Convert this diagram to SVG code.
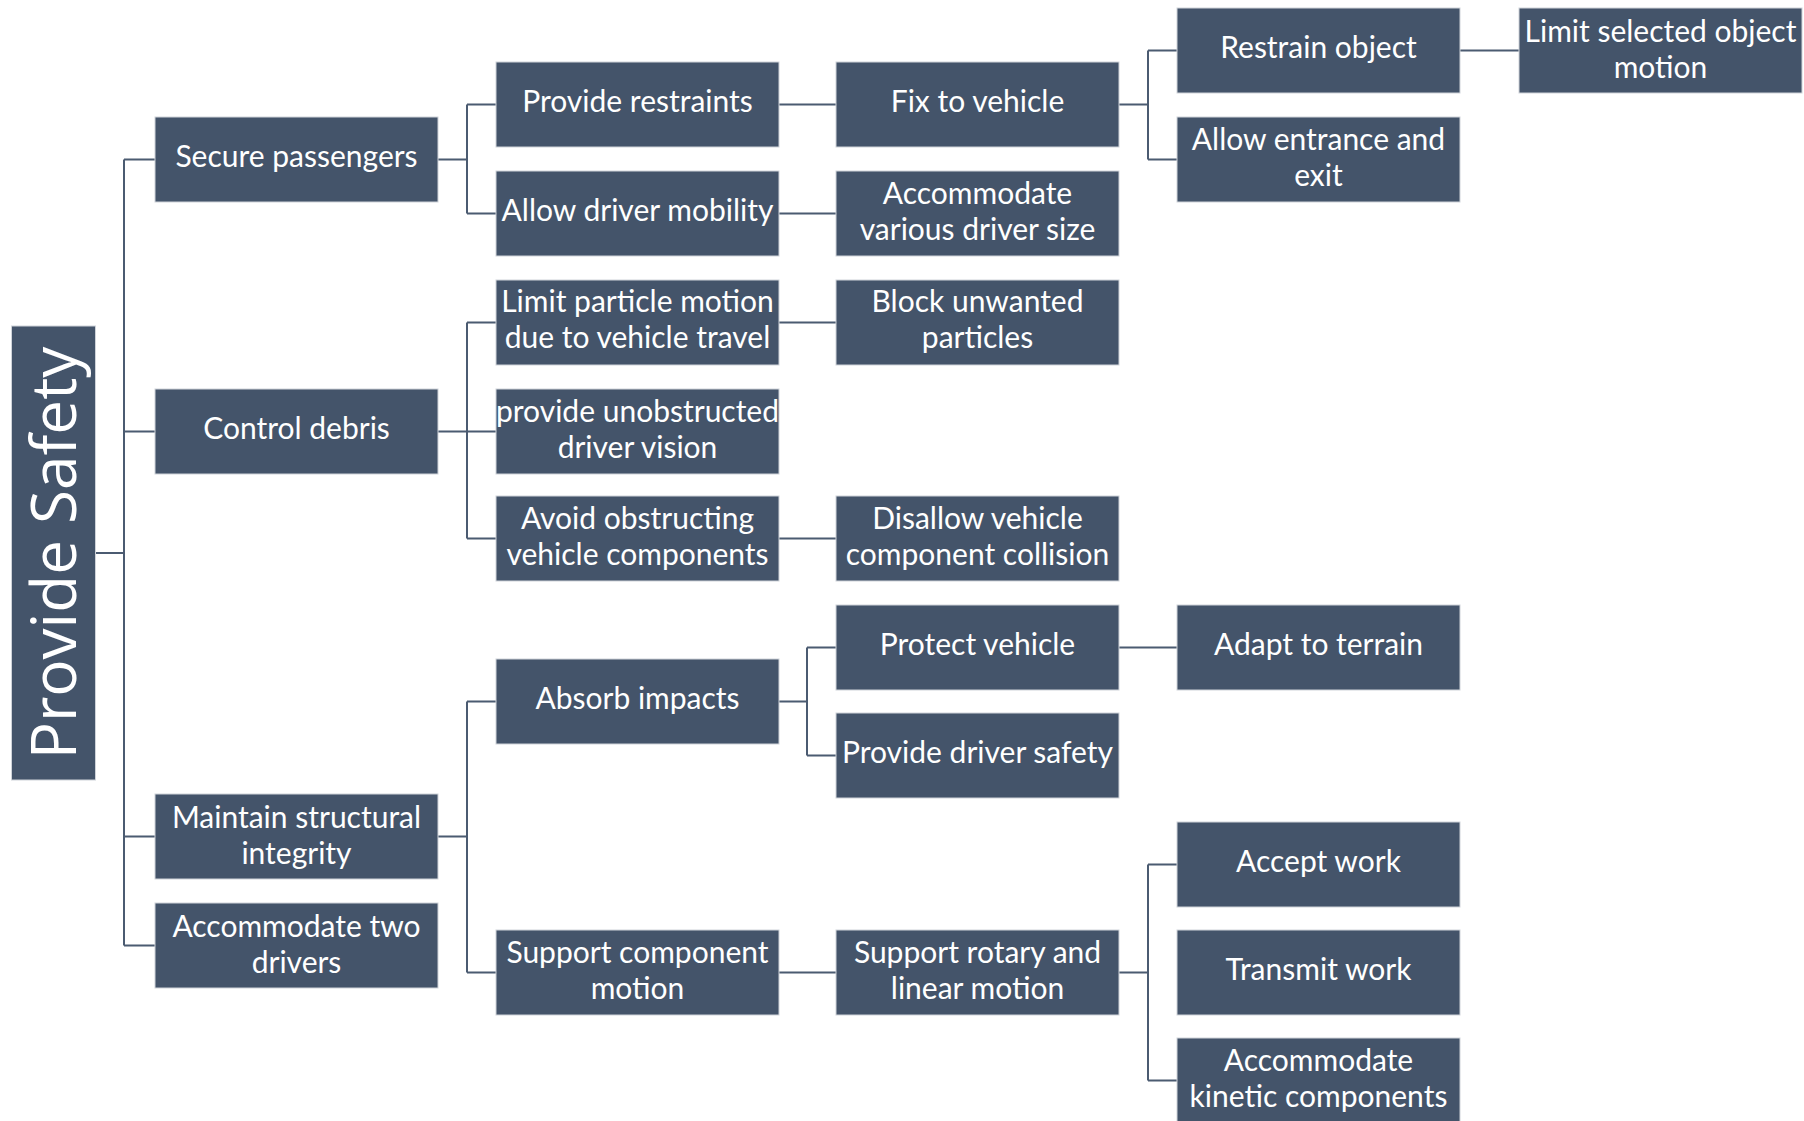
<svg xmlns="http://www.w3.org/2000/svg" width="1804" height="1121" viewBox="0 0 1804 1121">
<style>
.b{fill:#44546A;stroke:#cfd3d9;stroke-width:1}
.t{fill:#ffffff;font-family:Lato,"Open Sans","Liberation Sans",sans-serif;font-size:30px;text-anchor:middle}
.r{fill:#ffffff;font-family:"Open Sans","Liberation Sans",sans-serif;font-size:62px;text-anchor:middle}
.c{fill:none;stroke:#4b5b71;stroke-width:2}
</style>
<rect width="1804" height="1121" fill="#ffffff"/>
<g id="connectors" class="c">
<path d="M95.5 553H124M124 159.5V945.5M124 159.5H155M124 431.5H155M124 836.5H155M124 945.5H155"/>
<path d="M438 159.5H467M467 104.5V213.5M467 104.5H496M467 213.5H496"/>
<path d="M438 431.5H496M467 322.5V538.5M467 322.5H496M467 538.5H496"/>
<path d="M438 836.5H467M467 701.5V972.5M467 701.5H496M467 972.5H496"/>
<path d="M779 104.5H836M779 213.5H836M779 322.5H836M779 538.5H836M779 972.5H836"/>
<path d="M779 701.5H807M807 647.5V755.5M807 647.5H836M807 755.5H836"/>
<path d="M1119 104.5H1148M1148 50.5V159.5M1148 50.5H1177M1148 159.5H1177"/>
<path d="M1119 647.5H1177"/>
<path d="M1119 972.5H1148M1148 864.5V1080.5M1148 864.5H1177M1148 1080.5H1177"/>
<path d="M1460 50.5H1519"/>
</g>
<g id="root"><rect class="b" x="11.5" y="326" width="84" height="454"/><text class="r" transform="translate(76 553) rotate(-90)">Provide Safety</text></g>
<g id="n_secure"><rect class="b" x="155" y="117" width="283" height="85"/><text class="t" x="296.5" y="166.5">Secure passengers</text></g>
<g id="n_control"><rect class="b" x="155" y="389" width="283" height="85"/><text class="t" x="296.5" y="438.5">Control debris</text></g>
<g id="n_maintain"><rect class="b" x="155" y="794" width="283" height="85"/><text class="t" x="296.5" y="827.5">Maintain structural</text><text class="t" x="296.5" y="863.5">integrity</text></g>
<g id="n_accom2"><rect class="b" x="155" y="903" width="283" height="85"/><text class="t" x="296.5" y="936.5">Accommodate two</text><text class="t" x="296.5" y="972.5">drivers</text></g>
<g id="n_restraints"><rect class="b" x="496" y="62" width="283" height="85"/><text class="t" x="637.5" y="111.5">Provide restraints</text></g>
<g id="n_mobility"><rect class="b" x="496" y="171" width="283" height="85"/><text class="t" x="637.5" y="220.5">Allow driver mobility</text></g>
<g id="n_limitpart"><rect class="b" x="496" y="280" width="283" height="85"/><text class="t" x="637.5" y="312">Limit particle motion</text><text class="t" x="637.5" y="348">due to vehicle travel</text></g>
<g id="n_unobstructed"><rect class="b" x="496" y="389" width="283" height="85"/><text class="t" x="637.5" y="421.5">provide unobstructed</text><text class="t" x="637.5" y="457.5">driver vision</text></g>
<g id="n_avoid"><rect class="b" x="496" y="496" width="283" height="85"/><text class="t" x="637.5" y="529">Avoid obstructing</text><text class="t" x="637.5" y="565">vehicle components</text></g>
<g id="n_absorb"><rect class="b" x="496" y="659" width="283" height="85"/><text class="t" x="637.5" y="708.5">Absorb impacts</text></g>
<g id="n_supportcomp"><rect class="b" x="496" y="930" width="283" height="85"/><text class="t" x="637.5" y="963">Support component</text><text class="t" x="637.5" y="999">motion</text></g>
<g id="n_fix"><rect class="b" x="836" y="62" width="283" height="85"/><text class="t" x="977.5" y="111.5">Fix to vehicle</text></g>
<g id="n_various"><rect class="b" x="836" y="171" width="283" height="85"/><text class="t" x="977.5" y="204">Accommodate</text><text class="t" x="977.5" y="240">various driver size</text></g>
<g id="n_block"><rect class="b" x="836" y="280" width="283" height="85"/><text class="t" x="977.5" y="312">Block unwanted</text><text class="t" x="977.5" y="348">particles</text></g>
<g id="n_disallow"><rect class="b" x="836" y="496" width="283" height="85"/><text class="t" x="977.5" y="529">Disallow vehicle</text><text class="t" x="977.5" y="565">component collision</text></g>
<g id="n_protect"><rect class="b" x="836" y="605" width="283" height="85"/><text class="t" x="977.5" y="654.5">Protect vehicle</text></g>
<g id="n_driversafety"><rect class="b" x="836" y="713" width="283" height="85"/><text class="t" x="977.5" y="762.5">Provide driver safety</text></g>
<g id="n_rotary"><rect class="b" x="836" y="930" width="283" height="85"/><text class="t" x="977.5" y="963">Support rotary and</text><text class="t" x="977.5" y="999">linear motion</text></g>
<g id="n_restrain"><rect class="b" x="1177" y="8" width="283" height="85"/><text class="t" x="1318.5" y="57.5">Restrain object</text></g>
<g id="n_entrance"><rect class="b" x="1177" y="117" width="283" height="85"/><text class="t" x="1318.5" y="150">Allow entrance and</text><text class="t" x="1318.5" y="186">exit</text></g>
<g id="n_adapt"><rect class="b" x="1177" y="605" width="283" height="85"/><text class="t" x="1318.5" y="654.5">Adapt to terrain</text></g>
<g id="n_accept"><rect class="b" x="1177" y="822" width="283" height="85"/><text class="t" x="1318.5" y="871.5">Accept work</text></g>
<g id="n_transmit"><rect class="b" x="1177" y="930" width="283" height="85"/><text class="t" x="1318.5" y="979.5">Transmit work</text></g>
<g id="n_kinetic"><rect class="b" x="1177" y="1038" width="283" height="85"/><text class="t" x="1318.5" y="1071">Accommodate</text><text class="t" x="1318.5" y="1107">kinetic components</text></g>
<g id="n_limitsel"><rect class="b" x="1519" y="8" width="283" height="85"/><text class="t" x="1660.5" y="41.5">Limit selected object</text><text class="t" x="1660.5" y="77.5">motion</text></g>
</svg>
